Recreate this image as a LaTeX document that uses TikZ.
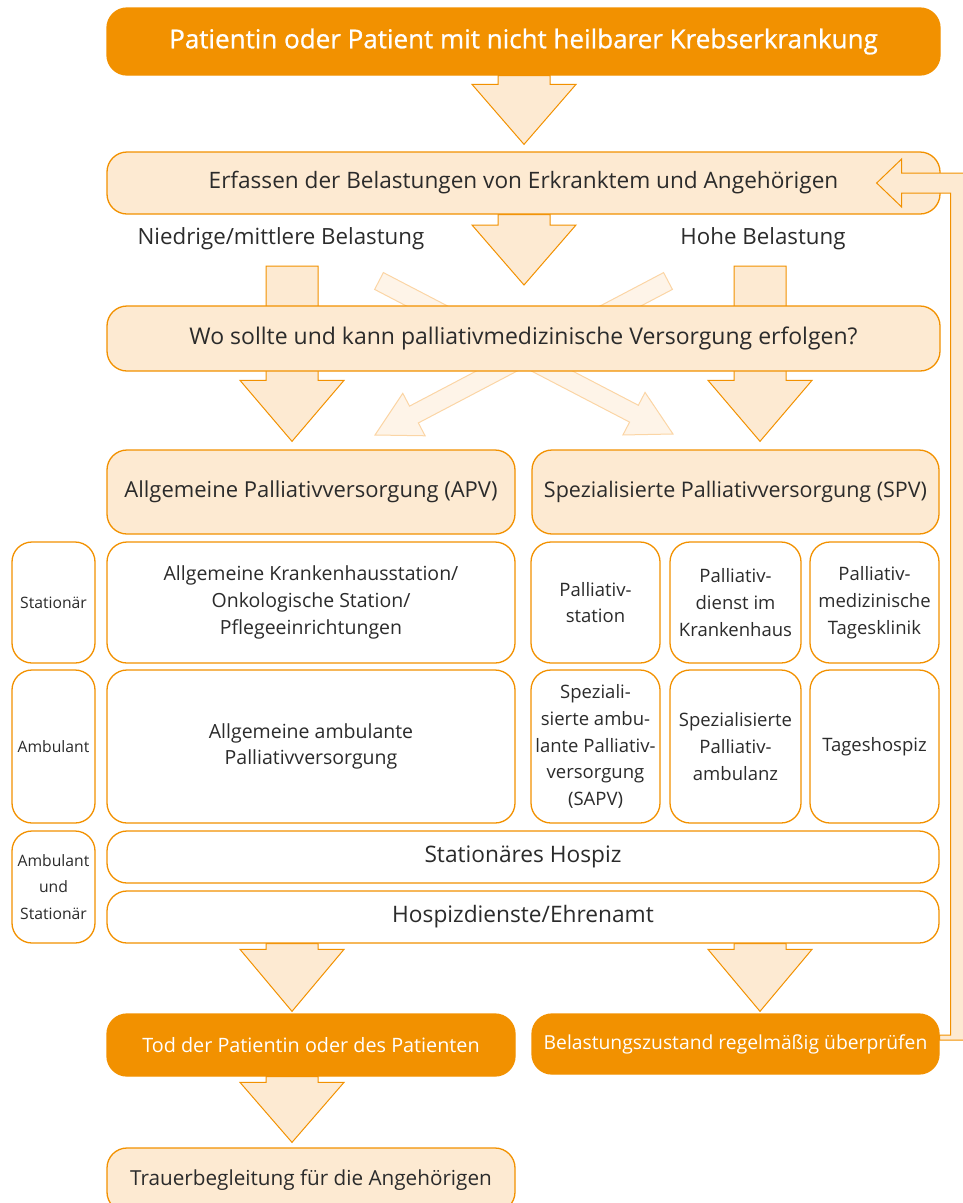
\documentclass[tikz,border=0pt]{standalone}
\usepackage{fontspec}
\setmainfont{Open Sans}
\newfontfamily\dickfont[FakeBold=0.8]{Open Sans}
\usetikzlibrary{calc}

\definecolor{dunkelorange}{HTML}{F29100}
\definecolor{hellorange}{HTML}{FDEAD2}
\definecolor{blassorange}{HTML}{FEF4E8}
\definecolor{blasslinie}{HTML}{FBD5A5}
\definecolor{textgrau}{HTML}{2B2B2B}

\pgfdeclarelayer{hinten}
\pgfsetlayers{hinten,main}

% 粗箭头: #2 起点, #3 箭尖, #4 杆半宽, #5 头半宽, #6 头长
\newcommand{\fatarrow}[6][blockarr]{%
  \coordinate (fa-t) at #2;
  \coordinate (fa-p) at #3;
  \coordinate (fa-h) at ($(fa-p)!#6!(fa-t)$);
  \draw[#1] ($(fa-t)!#4!90:(fa-p)$) -- ($(fa-h)!#4!90:(fa-p)$)
    -- ($(fa-h)!#5!90:(fa-p)$) -- (fa-p) -- ($(fa-h)!#5!-90:(fa-p)$)
    -- ($(fa-h)!#4!-90:(fa-p)$) -- ($(fa-t)!#4!-90:(fa-p)$) -- cycle;}

\begin{document}
\begin{tikzpicture}[x=1pt, y=-1pt,
    box/.style={rounded corners=20pt, draw=dunkelorange, line width=1.3pt,
      align=center, text=textgrau, inner sep=0pt},
    hellbox/.style={box, fill=hellorange},
    weissbox/.style={box, fill=white},
    dunkelbox/.style={box, fill=dunkelorange, text=white},
    boxsize/.style 2 args={minimum width=#1pt, minimum height=#2pt},
    fs/.style={font=\fontsize{#1}{26.7}\selectfont},
    mittel/.style={fs=18.5},
    klein/.style={fs=15.7},
    blockarr/.style={draw=dunkelorange, fill=hellorange, line width=1pt},
    blassarr/.style={draw=blasslinie, fill=blassorange, line width=1pt}]
    \useasboundingbox (0,0) rectangle (962,1203);

    % 上部
    \node[dunkelbox, boxsize={833}{67}, font=\dickfont\fontsize{26}{30}\selectfont] (patient)
        at (523.5,41.5) {Patientin oder Patient mit nicht heilbarer Krebserkrankung};
    \node[hellbox, boxsize={833}{62}, fs=22.6] (erfassen) at (523.5,183)
        {Erfassen der Belastungen von Erkranktem und Angehörigen};
    \node[fs=22.3, text=textgrau] (niedrig) at (281,239) {Niedrige/mittlere Belastung};
    \node[fs=22.3, text=textgrau] (hoch) at (763,239) {Hohe Belastung};
    \node[hellbox, boxsize={833}{65}, fs=23] (wo) at (523.5,338.5)
        {Wo sollte und kann palliativmedizinische Versorgung erfolgen?};
    \node[hellbox, boxsize={408}{84}, fs=22] (apv) at (311,492)
        {Allgemeine Palliativversorgung (APV)};
    \node[hellbox, boxsize={407}{84}, fs=21.5] (spv) at (735.5,492)
        {Spezialisierte Palliativversorgung (SPV)};

    % 表格: 住院
    \node[weissbox, boxsize={83}{121}, klein] (stationaer) at (53.5,602.5) {Stationär};
    \node[weissbox, boxsize={408}{121}, fs=19.5] (apvStat) at (311,602.5)
        {Allgemeine Krankenhausstation/\\Onkologische Station/\\Pflegeeinrichtungen};
    \node[weissbox, boxsize={129}{121}, mittel] (palStation) at (595.5,602.5) {Palliativ-\\station};
    \node[weissbox, boxsize={131}{121}, mittel] (palDienst) at (735.5,602.5) {Palliativ-\\dienst im\\Krankenhaus};
    \node[weissbox, boxsize={129}{121}, mittel] (tagesklinik) at (874.5,602.5) {Palliativ-\\medizinische\\Tagesklinik};

    % 表格: 门诊
    \node[weissbox, boxsize={83}{153}, klein] (ambulant) at (53.5,746.5) {Ambulant};
    \node[weissbox, boxsize={408}{153}, fs=19.5] (apvAmb) at (311,746.5)
        {Allgemeine ambulante\\Palliativversorgung};
    \node[weissbox, boxsize={129}{153}, mittel] (sapv) at (595.5,746.5)
        {Speziali-\\sierte ambu-\\lante Palliativ-\\versorgung\\(SAPV)};
    \node[weissbox, boxsize={131}{153}, mittel] (ambulanz) at (735.5,746.5) {Spezialisierte\\Palliativ-\\ambulanz};
    \node[weissbox, boxsize={129}{153}, mittel] (tageshospiz) at (874.5,746.5) {Tageshospiz};

    % 表格: 两者
    \node[weissbox, boxsize={83}{112}, klein] (beide) at (53.5,887) {Ambulant\\und\\Stationär};
    \node[weissbox, boxsize={832}{52}, fs=22.7] (hospiz) at (523,857) {Stationäres Hospiz};
    \node[weissbox, boxsize={832}{52}, fs=22.7] (ehrenamt) at (523,917) {Hospizdienste/Ehrenamt};

    % 下部
    \node[dunkelbox, boxsize={408}{62}, fs=19.8] (tod) at (311,1045) {Tod der Patientin oder des Patienten};
    \node[dunkelbox, boxsize={407}{60}, fs=19.3] (pruefen) at (735.5,1044) {Belastungszustand regelmäßig überprüfen};
    \node[hellbox, boxsize={408}{64}, fs=20.7] (trauer) at (311,1180) {Trauerbegleitung für die Angehörigen};

    % 箭头 (在框后面)
    \begin{pgfonlayer}{hinten}
        \coordinate (mitte) at (524,0);
        \coordinate (links) at (292,0);
        \coordinate (rechts) at (760,0);
        \coordinate (xUL) at (379,281);
        \coordinate (xUR) at (668,281);
        \coordinate (xLL) at (375,435);
        \coordinate (xLR) at (673,434);
        \fatarrow[blassarr]{(xUL)}{(xLR)}{9.5pt}{24pt}{44pt}
        \fatarrow[blassarr]{(xUR)}{(xLL)}{9.5pt}{24pt}{44pt}
        \fatarrow{(patient.south -| mitte)}{($(erfassen.north -| mitte)+(0,-7)$)}{26pt}{52pt}{60pt}
        \fatarrow{(erfassen.south -| mitte)}{(mitte |- 0,285)}{26pt}{52pt}{60pt}
        \fatarrow{(links |- 0,266)}{($(apv.north -| links)+(0,-8)$)}{26pt}{52pt}{61pt}
        \fatarrow{(rechts |- 0,266)}{($(spv.north -| rechts)+(0,-8)$)}{26pt}{52pt}{61pt}
        \fatarrow{(ehrenamt.south -| links)}{($(tod.north -| links)+(0,-2)$)}{26pt}{52pt}{62pt}
        \fatarrow{(ehrenamt.south -| rechts)}{($(pruefen.north -| rechts)+(0,-2)$)}{26pt}{52pt}{62pt}
        \fatarrow{(tod.south -| links)}{($(trauer.north -| links)+(0,-5)$)}{26pt}{52pt}{60pt}
    \end{pgfonlayer}

    % 回路箭头
    \filldraw[blockarr] ($(pruefen.east)+(0,-9)$) -- ($(pruefen.east)+(11,-9)$)
        |- ($(erfassen.east)+(-39,10)$) -- ++(0,14) -- ($(erfassen.east)+(-64,0)$)
        -- ($(erfassen.east)+(-39,-24)$) -- ++(0,14) -- ($(erfassen.east)+(30,-10)$)
        |- ($(pruefen.east)+(0,-4)$) -- cycle;
\end{tikzpicture}
\end{document}
